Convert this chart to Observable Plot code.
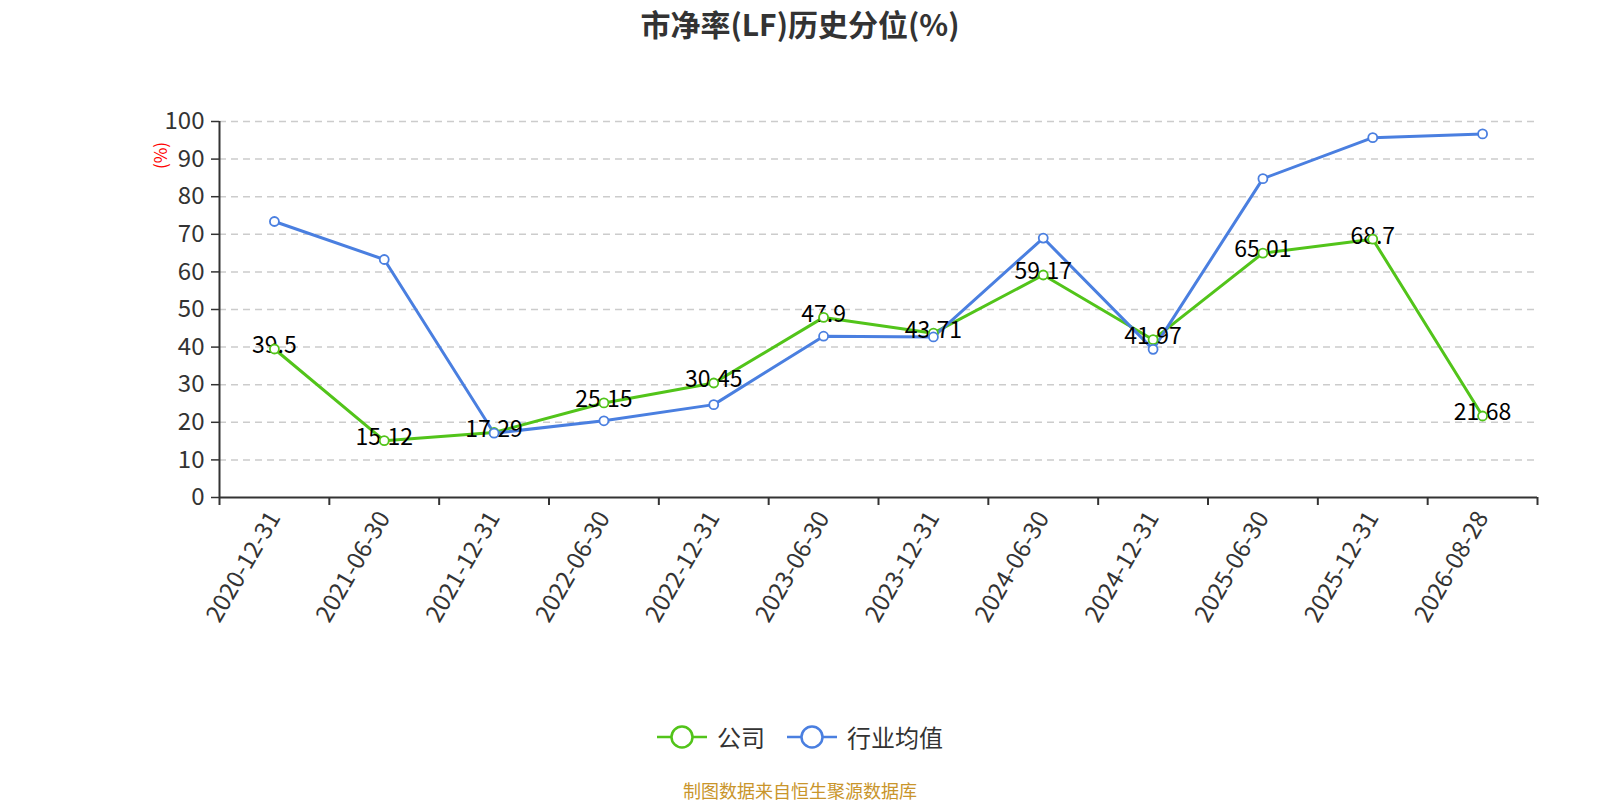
<!DOCTYPE html>
<html><head><meta charset="utf-8">
<script src="https://cdn.jsdelivr.net/npm/d3@7"></script>
<script src="https://cdn.jsdelivr.net/npm/@observablehq/plot@0.6"></script>
<style>
html,body{margin:0;padding:0;background:#fff;overflow:hidden}
body{font-family:"Noto Sans CJK SC","Noto Sans",sans-serif;width:1600px;height:800px;position:relative}
#title{position:absolute;left:0;width:1600px;top:3px;text-align:center;font-size:30px;font-weight:bold;color:#333;line-height:40px}
#chart{position:absolute;left:0;top:50px;width:1600px;height:640px;overflow:hidden}
#legend{position:absolute;top:721px;left:0;width:1600px;display:flex;justify-content:center;gap:22px;font-size:24px;color:#333;align-items:center;line-height:32px;height:32px}
.item{display:flex;align-items:center;gap:10px}
#footer{position:absolute;top:777px;left:0;width:1600px;text-align:center;font-size:18px;color:#c9952b;line-height:26px}
</style></head>
<body>
<div id="title">市净率(LF)历史分位(%)</div>
<div id="chart"></div>
<div id="legend"></div>
<div id="footer">制图数据来自恒生聚源数据库</div>
<script>
const dates = ["2020-12-31","2021-06-30","2021-12-31","2022-06-30","2022-12-31","2023-06-30","2023-12-31","2024-06-30","2024-12-31","2025-06-30","2025-12-31","2026-08-28"];
const company = [39.5,15.12,17.29,25.15,30.45,47.9,43.71,59.17,41.97,65.01,68.7,21.68];
const industry = [73.4,63.3,17.1,20.4,24.7,42.9,42.7,69.0,39.4,84.8,95.7,96.7];
const yTicks = [0,10,20,30,40,50,60,70,80,90,100];
const seriesNames = ["公司","行业均值"];
const colors = ["#52c41a","#4a7fe0"];

const comp = dates.map((d,i)=>({i, date:d, v:company[i]}));
const ind = dates.map((d,i)=>({i, date:d, v:industry[i]}));
const idx = d3.range(dates.length);
const bounds = d3.range(dates.length+1).map(i=>i-0.5);

const plot = Plot.plot({
  width:1600, height:640,
  marginTop:71, marginBottom:193, marginLeft:219, marginRight:63,
  style:{fontFamily:'"Noto Sans CJK SC","Noto Sans",sans-serif', background:"#fff", overflow:"visible"},
  x:{type:"linear", domain:[-0.5, dates.length-0.5]},
  y:{domain:[0,100]},
  marks:[
    Plot.ruleY(yTicks.filter(t=>t>0), {stroke:"#ccc", strokeWidth:1.5, strokeDasharray:"7,5"}),
    Plot.axisY({ticks:yTicks, tickSize:8, tickPadding:7, fontSize:24, color:"#333", stroke:"#333", strokeWidth:1.5, label:null}),
    Plot.ruleX([-0.5], {stroke:"#333", strokeWidth:2}),
    Plot.axisX({ticks:idx, tickSize:0, tickPadding:16, tickRotate:-60, fontSize:24, color:"#333", tickFormat:i=>dates[i], label:null}),
    Plot.axisX({ticks:bounds, tickSize:8, tickFormat:()=>"", stroke:"#333", strokeWidth:2, label:null}),
    Plot.ruleY([0], {stroke:"#333", strokeWidth:2}),
    Plot.text(["(%)"], {frameAnchor:"top-left", dx:-65, dy:34, rotate:-90, fill:"red", fontSize:17, textAnchor:"middle"}),
    Plot.line(comp, {x:"i", y:"v", stroke:colors[0], strokeWidth:3}),
    Plot.line(ind, {x:"i", y:"v", stroke:colors[1], strokeWidth:3}),
    Plot.text(comp, {x:"i", y:"v", text:d=>String(d.v), fill:"#000", fontSize:23, dy:-3}),
    Plot.dot(comp, {x:"i", y:"v", r:4.5, fill:"#fff", stroke:colors[0], strokeWidth:1.8}),
    Plot.dot(ind, {x:"i", y:"v", r:4.5, fill:"#fff", stroke:colors[1], strokeWidth:1.8})
  ]
});
document.getElementById("chart").appendChild(plot);

const leg = document.getElementById("legend");
seriesNames.forEach((n,k)=>{
  const it = document.createElement("div"); it.className="item";
  it.innerHTML = `<svg width="50" height="28"><line x1="0" y1="14" x2="50" y2="14" stroke="${colors[k]}" stroke-width="2.5"/><circle cx="25" cy="14" r="10.5" fill="#fff" stroke="${colors[k]}" stroke-width="2.5"/></svg><span>${n}</span>`;
  leg.appendChild(it);
});
</script>
</body></html>
